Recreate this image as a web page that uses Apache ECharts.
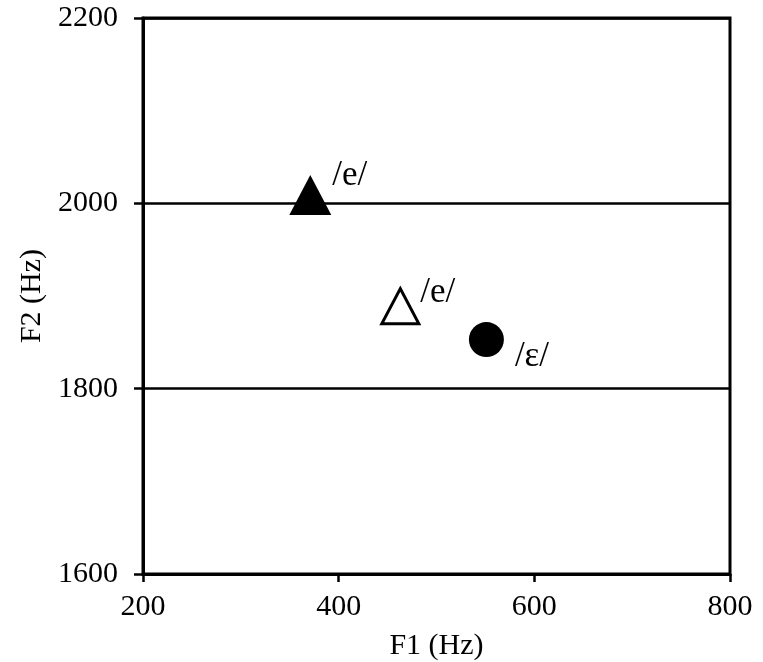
<!DOCTYPE html>
<html>
<head>
<meta charset="utf-8">
<script src="https://cdn.jsdelivr.net/npm/echarts@6/dist/echarts.min.js"></script>
<style>
html,body{margin:0;padding:0;background:#fff;}
#chart{width:763px;height:662px;}
</style>
</head>
<body>
<div id="chart"></div>
<script>
const vowelLabels = ['/e/', '/e/', '/ε/'];
const f1Values = [371, 463, 551];
const f2Values = [2009, 1889, 1853];
const xTicks = [200, 400, 600, 800];
const yTicks = [1600, 1800, 2000, 2200];

const FONT = '"Liberation Serif", "Times New Roman", serif';

const markerStyles = [
  { symbol: 'triangle', symbolSize: [42, 40], itemStyle: { color: '#000', opacity: 1 },
    label: { distance: 1, offset: [0, -19] } },
  { symbol: 'triangle', symbolSize: [37, 35], itemStyle: { color: '#fff', borderColor: '#000', borderWidth: 3, opacity: 1 },
    label: { distance: 0, offset: [0, -13] } },
  { symbol: 'circle', symbolSize: 35, itemStyle: { color: '#000', opacity: 1 },
    label: { distance: 11, offset: [0, 17] } }
];

const series = f1Values.map((x, i) => ({
  type: 'scatter',
  data: [[x, f2Values[i]]],
  symbol: markerStyles[i].symbol,
  symbolSize: markerStyles[i].symbolSize,
  itemStyle: markerStyles[i].itemStyle,
  label: Object.assign({
    show: true,
    position: 'right',
    formatter: vowelLabels[i],
    color: '#000',
    opacity: 1,
    fontFamily: FONT,
    fontSize: 35
  }, markerStyles[i].label),
  emphasis: { disabled: true },
  z: 5
}));

const chart = echarts.init(document.getElementById('chart'), null, { renderer: 'canvas' });
chart.setOption({
  animation: false,
  backgroundColor: '#fff',
  grid: {
    left: 143, right: 33, top: 18, bottom: 88,
    containLabel: false, outerBoundsMode: 'none',
    show: true, borderColor: '#000', borderWidth: 3, backgroundColor: 'transparent'
  },
  xAxis: {
    type: 'value',
    min: xTicks[0], max: xTicks[xTicks.length - 1], interval: 200,
    name: 'F1 (Hz)', nameLocation: 'middle', nameGap: 57,
    nameTextStyle: { fontFamily: FONT, fontSize: 30, color: '#000' },
    axisLine: { show: true, lineStyle: { color: '#000', width: 3 } },
    axisTick: { show: true, inside: false, length: 8, lineStyle: { color: '#000', width: 2.5 } },
    axisLabel: { fontFamily: FONT, fontSize: 30, color: '#000', margin: 18, formatter: v => String(v) },
    splitLine: { show: false }
  },
  yAxis: {
    type: 'value',
    min: yTicks[0], max: yTicks[yTicks.length - 1], interval: 200,
    name: 'F2 (Hz)', nameLocation: 'middle', nameGap: 95, nameRotate: 90,
    nameTextStyle: { fontFamily: FONT, fontSize: 30, color: '#000' },
    axisLine: { show: true, lineStyle: { color: '#000', width: 3 } },
    axisTick: { show: true, inside: false, length: 9, lineStyle: { color: '#000', width: 2.5 } },
    axisLabel: { fontFamily: FONT, fontSize: 30, color: '#000', margin: 25, formatter: v => String(v) },
    splitLine: { show: true, lineStyle: { color: '#000', width: 2.5 } }
  },
  series: series
});
</script>
</body>
</html>
